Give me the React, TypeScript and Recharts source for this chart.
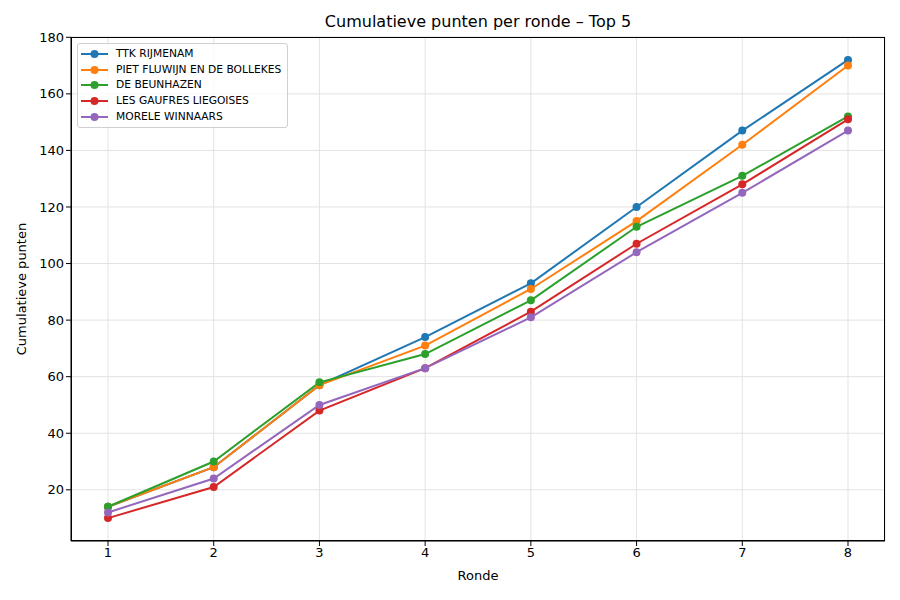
import {
  LineChart,
  Line,
  XAxis,
  YAxis,
  CartesianGrid,
} from "recharts"

const rounds = [1, 2, 3, 4, 5, 6, 7, 8]
const teams = [
  "TTK RIJMENAM",
  "PIET FLUWIJN EN DE BOLLEKES",
  "DE BEUNHAZEN",
  "LES GAUFRES LIEGOISES",
  "MORELE WINNAARS",
]
const colors = ["#1f77b4", "#ff7f0e", "#2ca02c", "#d62728", "#9467bd"]

const ttk = [14, 28, 57, 74, 93, 120, 147, 172]
const piet = [14, 28, 57, 71, 91, 115, 142, 170]
const beunhazen = [14, 30, 58, 68, 87, 113, 131, 152]
const gaufres = [10, 21, 48, 63, 83, 107, 128, 151]
const morele = [12, 24, 50, 63, 81, 104, 125, 147]

const yTicks = [20, 40, 60, 80, 100, 120, 140, 160, 180]

const series = [ttk, piet, beunhazen, gaufres, morele]

const data = rounds.map((r, i) => {
  const row: Record<string, number> = { ronde: r }
  teams.forEach((t, k) => {
    row[t] = series[k][i]
  })
  return row
})

const font = "DejaVu Sans, sans-serif"

function LegendBox() {
  return (
    <div
      style={{
        position: "absolute",
        left: 77,
        top: 43,
        border: "1px solid #d0d0d0",
        borderRadius: 3,
        background: "rgba(255,255,255,0.8)",
        padding: "2px 6px 2px 3px",
        fontFamily: font,
        fontSize: 10.7,
        lineHeight: "15.7px",
      }}
    >
      {teams.map((t, i) => (
        <div key={t} style={{ display: "flex", alignItems: "center" }}>
          <svg width={27} height={10} style={{ marginRight: 8 }}>
            <line x1={0} y1={5} x2={27} y2={5} stroke={colors[i]} strokeWidth={2} />
            <circle cx={13.5} cy={5} r={4} fill={colors[i]} />
          </svg>
          <span>{t}</span>
        </div>
      ))}
    </div>
  )
}

export default function App() {
  return (
    <div style={{ position: "absolute", left: 0, top: 0, width: 900, height: 600, background: "#fff" }}>
      <div
        style={{
          position: "absolute",
          top: 12,
          left: 71,
          width: 814,
          textAlign: "center",
          fontFamily: font,
          fontSize: 16,
        }}
      >
        Cumulatieve punten per ronde – Top 5
      </div>
      <div
        style={{
          position: "absolute",
          left: 71,
          top: 568,
          width: 814,
          textAlign: "center",
          fontFamily: font,
          fontSize: 13,
        }}
      >
        Ronde
      </div>
      <div
        style={{
          position: "absolute",
          left: 21,
          top: 289,
          transform: "translate(-50%, -50%) rotate(-90deg)",
          whiteSpace: "nowrap",
          fontFamily: font,
          fontSize: 13,
        }}
      >
        Cumulatieve punten
      </div>
      <LineChart
        width={900}
        height={600}
        data={data}
        margin={{ top: 37, right: 15, bottom: 0, left: 0 }}
      >
        <CartesianGrid stroke="#e3e3e3" strokeWidth={1} />
        <XAxis
          dataKey="ronde"
          type="number"
          domain={[0.65, 8.35]}
          ticks={rounds}
          height={59}
          stroke="#000"
          tick={{ fill: "#000", fontSize: 13, fontFamily: font }}
          tickSize={5}
          allowDataOverflow
        />
        <YAxis
          type="number"
          domain={[1.9, 180.1]}
          ticks={yTicks}
          width={71}
          stroke="#000"
          tick={{ fill: "#000", fontSize: 13, fontFamily: font }}
          tickSize={5}
          allowDataOverflow
        />
        {teams.map((t, i) => (
          <Line
            key={t}
            dataKey={t}
            stroke={colors[i]}
            strokeWidth={2}
            dot={{ r: 4, fill: colors[i], stroke: colors[i], strokeWidth: 0 }}
            activeDot={false}
            isAnimationActive={false}
          />
        ))}
      </LineChart>
      <div
        style={{
          position: "absolute",
          left: 71,
          top: 37,
          width: 814,
          height: 504,
          border: "1px solid #000",
          boxSizing: "border-box",
          pointerEvents: "none",
        }}
      />
      <LegendBox />
    </div>
  )
}
